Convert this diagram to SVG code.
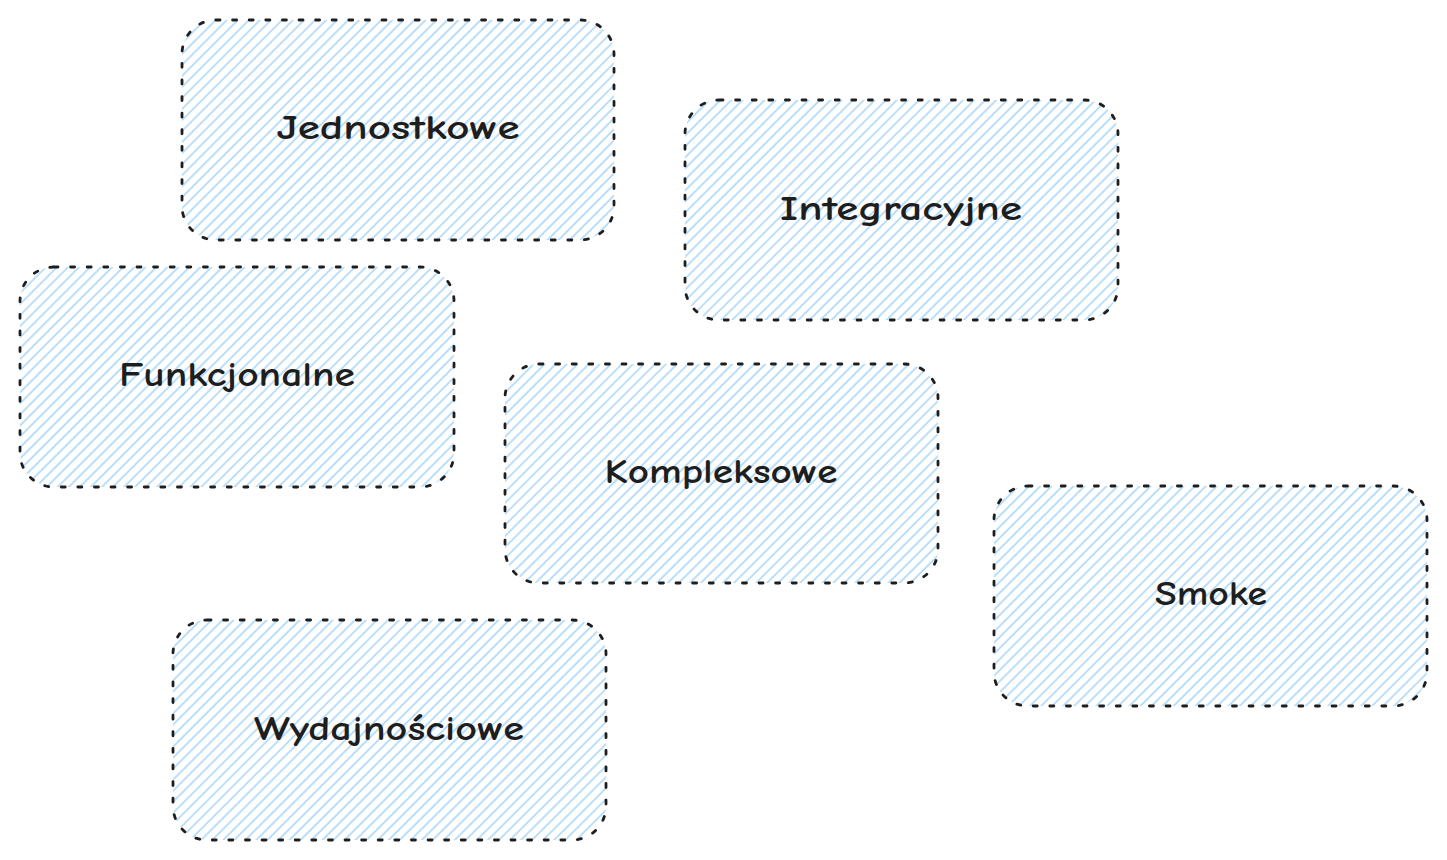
<svg xmlns="http://www.w3.org/2000/svg" width="1447" height="860" viewBox="0 0 1447 860">
<defs>
<pattern id="hatch" patternUnits="userSpaceOnUse" width="7.8" height="20" patternTransform="rotate(45)">
<line x1="3" y1="0" x2="3" y2="20" stroke="#96cdf8" stroke-width="1.3"/>
</pattern>
</defs>
<style>
.box{fill:url(#hatch);stroke:#1e1e1e;stroke-width:2.8;stroke-dasharray:4 12.6;stroke-linecap:round}
.lbl{font-family:"Comic Neue","Noto Sans","Liberation Sans",sans-serif;font-size:34px;fill:#1e1e1e;text-anchor:middle;dominant-baseline:central;font-weight:700}
</style>
<rect width="1447" height="860" fill="#ffffff"/>
<g id="connectors"></g>
<g id="jednostkowe"><rect class="box" x="182" y="20" width="432" height="220" rx="34"/><text class="lbl" x="398" y="128" textLength="243" lengthAdjust="spacingAndGlyphs">Jednostkowe</text></g>
<g id="integracyjne"><rect class="box" x="685" y="100" width="433" height="220" rx="34"/><text class="lbl" x="901" y="209" textLength="242" lengthAdjust="spacingAndGlyphs">Integracyjne</text></g>
<g id="funkcjonalne"><rect class="box" x="20" y="267" width="434" height="220" rx="34"/><text class="lbl" x="237" y="375" textLength="236" lengthAdjust="spacingAndGlyphs">Funkcjonalne</text></g>
<g id="kompleksowe"><rect class="box" x="505" y="364" width="433" height="219" rx="34"/><text class="lbl" x="721" y="472" textLength="233" lengthAdjust="spacingAndGlyphs">Kompleksowe</text></g>
<g id="smoke"><rect class="box" x="994" y="486" width="433" height="220" rx="34"/><text class="lbl" x="1211" y="594" textLength="112" lengthAdjust="spacingAndGlyphs">Smoke</text></g>
<g id="wydajnosciowe"><rect class="box" x="173" y="620" width="433" height="220" rx="34"/><text class="lbl" x="389" y="729" textLength="270" lengthAdjust="spacingAndGlyphs">Wydajnościowe</text></g>
</svg>
